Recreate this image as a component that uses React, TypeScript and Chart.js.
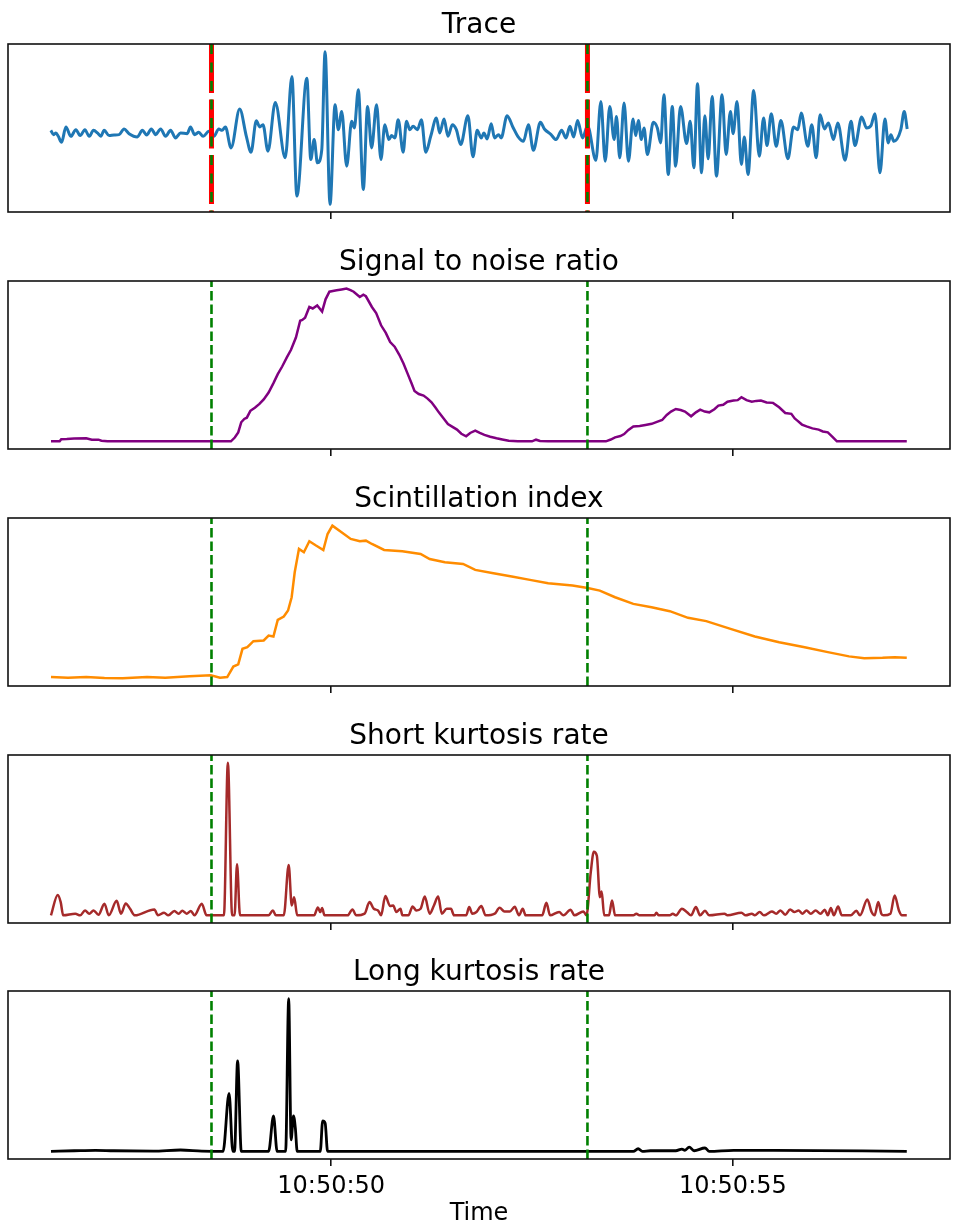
import React, { useEffect, useRef } from 'react';
import { Chart, registerables } from 'chart.js';

Chart.register(...registerables);

// ---------- DATA ----------
const panelTitles = ['Trace', 'Signal to noise ratio', 'Scintillation index', 'Short kurtosis rate', 'Long kurtosis rate'];
const xAxisTitle = 'Time';
// seconds after 10:50:00
const tickValues = [50, 55];
const tickLabels = ['10:50:50', '10:50:55'];
const pickTimes = [48.51, 53.19];

const traceTimes = [
  46.51, 46.545, 46.574, 46.603, 46.644, 46.698, 46.76, 46.822, 46.876, 46.934,
  46.988, 47.041, 47.091, 47.132, 47.174, 47.236, 47.298, 47.36, 47.422, 47.484,
  47.587, 47.65, 47.703, 47.761, 47.815, 47.877, 47.939, 48.001, 48.063, 48.125,
  48.208, 48.249, 48.299, 48.352, 48.406, 48.477, 48.539, 48.601, 48.642, 48.683,
  48.754, 48.861, 48.944, 49.002, 49.068, 49.11, 49.151, 49.213, 49.304, 49.428,
  49.511, 49.573, 49.697, 49.746, 49.788, 49.829, 49.883, 49.924, 49.986, 50.048,
  50.089, 50.131, 50.193, 50.255, 50.288, 50.338, 50.4, 50.453, 50.503, 50.565,
  50.619, 50.668, 50.718, 50.751, 50.793, 50.834, 50.896, 50.937, 50.979, 51.02,
  51.074, 51.123, 51.177, 51.239, 51.31, 51.351, 51.405, 51.454, 51.508, 51.558,
  51.612, 51.702, 51.765, 51.818, 51.868, 51.901, 51.942, 51.992, 52.033, 52.083,
  52.116, 52.19, 52.261, 52.323, 52.393, 52.455, 52.517, 52.604, 52.654, 52.737,
  52.798, 52.869, 52.923, 52.972, 53.018, 53.067, 53.129, 53.191, 53.295, 53.357,
  53.411, 53.468, 53.522, 53.551, 53.592, 53.646, 53.7, 53.758, 53.791, 53.824,
  53.861, 53.894, 53.936, 54.01, 54.06, 54.101, 54.142, 54.196, 54.246, 54.287,
  54.349, 54.424, 54.469, 54.515, 54.56, 54.61, 54.651, 54.693, 54.742, 54.796,
  54.866, 54.916, 54.97, 55.003, 55.052, 55.106, 55.143, 55.189, 55.259, 55.329,
  55.383, 55.425, 55.478, 55.54, 55.598, 55.685, 55.755, 55.809, 55.851, 55.933,
  55.983, 56.037, 56.086, 56.14, 56.19, 56.252, 56.306, 56.397, 56.471, 56.52,
  56.603, 56.665, 56.719, 56.769, 56.831, 56.893, 56.934, 56.967, 57.004, 57.091,
  57.133, 57.17,
];
const traceValues = [
  -0.7, -5.0, -3.3, -6.7, -12.7, 2.7, -6.7, 0, -6, 0,
  -6.7, -0.7, -3.3, -6.7, -0.7, -6, -5.3, -5, 0.7, -4,
  -7.3, -0.7, -5.3, 0.7, -5, 0.7, -6.7, -0.7, -8.3, -3.3,
  -4, 2.7, -5, -2.7, -6.7, -1.7, -6.7, 0.7, -0.7, 2.7,
  -18.3, 20.7, -6.7, -22.7, 9, 2.7, 5, -21.7, 27.3, -28.3,
  53.3, -66.7, 51.7, -30, -10, -33.3, -20, 78.3, -75, 25,
  0, 18.3, -36.7, 8.3, 1.7, 40, -60, 23.3, -18.3, 25,
  -30, 5, -10, -6, -8.3, 10, -22.7, 8.3, 0, 3.3,
  0, 10, -22.7, -6.7, 11.7, -3.3, 10.7, -6.7, 5, 0,
  -15, 14, -27.3, -0.7, -8.3, -3.3, -9.3, 6, -8.3, -5,
  -8.3, 14, 2.7, -6.7, -11.7, 5, -20.7, 7.3, 0.7, -5,
  -10, -0.7, -8.3, 3.3, -7.3, 9.3, -8.3, 4, -30.7, 28.3,
  -31.7, 23.3, -10, 13.3, -28.3, 26.7, -31.7, 10.7, -6, 9.3,
  -10, 1.7, -25, 7.3, 1.7, -13.3, 35, -45, 23.3, -36.7,
  23.3, -14, 8.3, -38.3, 46, -43.3, 14, -29.3, 33.3, -46.7,
  35, -25, 18.3, -4, 28.3, -35, -7.3, -45, 39.3, -26.7,
  11.7, -16, 16, -16.7, 9.3, -29.3, 2.7, 0, 16.7, -16.7,
  5, -28.3, 15, 0.7, 6.7, -10, 6.7, -30.7, 8.3, -16,
  12.7, 1.7, 4, 16, -43.3, 10.7, -13.3, -5, -11.7, 0,
  18.3, 0.7,
];

const snrTimes = [
  46.512, 46.62, 46.64, 46.709, 46.8, 46.951, 47.02, 47.103, 47.14, 47.216,
  48.752, 48.8, 48.843, 48.88, 48.918, 48.95, 48.994, 49.05, 49.107, 49.16,
  49.221, 49.28, 49.335, 49.39, 49.448, 49.5, 49.561, 49.614, 49.64, 49.675,
  49.728, 49.77, 49.826, 49.887, 49.93, 49.978, 50.02, 50.068, 50.13, 50.19,
  50.24, 50.28, 50.356, 50.4, 50.432, 50.507, 50.56, 50.621, 50.68, 50.734,
  50.79, 50.848, 50.9, 50.946, 51.0, 51.037, 51.09, 51.15, 51.2, 51.249,
  51.3, 51.34, 51.4, 51.453, 51.51, 51.566, 51.62, 51.68, 51.73, 51.793,
  51.85, 51.907, 51.98, 52.058, 52.13, 52.21, 52.323, 52.5, 52.55, 52.6,
  52.701, 53.42, 53.48, 53.534, 53.6, 53.647, 53.7, 53.761, 53.84, 53.912,
  53.99, 54.063, 54.12, 54.177, 54.23, 54.29, 54.35, 54.404, 54.48, 54.54,
  54.593, 54.65, 54.707, 54.77, 54.82, 54.88, 54.933, 55.009, 55.06, 55.107,
  55.17, 55.236, 55.29, 55.349, 55.42, 55.5, 55.576, 55.652, 55.728, 55.77,
  55.803, 55.86, 55.917, 55.99, 56.068, 56.12, 56.182, 56.24, 56.295, 57.165,
];
const snrValues = [
  0, 0, 1.4, 1.5, 1.9, 2, 1.1, 1.1, 0.4, 0,
  0, 2.5, 5.9, 12.5, 14.7, 15.5, 20, 22, 24.5, 27.5,
  32, 38, 44, 49, 55, 60, 68, 79, 79.5, 81,
  88, 87, 89, 85, 93, 98, 98.5, 99, 99.5, 100,
  99, 98, 94.5, 96, 95, 88, 84, 76, 71, 65,
  62, 56.7, 51, 45, 38, 33, 31, 30, 28, 25.6,
  22, 19, 15, 11.4, 9.5, 7.7, 5, 3.3, 5.5, 7,
  5.5, 4.2, 3, 2, 1.2, 0.4, 0, 0, 1.1, 0.3,
  0, 0, 1.2, 2.6, 3.5, 4.8, 7.5, 9.8, 10, 10.7,
  11.5, 12.9, 14, 17.3, 19.5, 21.2, 20.5, 19.5, 16.4, 19,
  20.8, 19.5, 19, 21, 23.4, 24, 26, 26.7, 27, 28.9,
  27, 26, 26.5, 26.7, 25.5, 25.2, 22.3, 18.6, 18, 15,
  13.6, 11, 9.8, 8.5, 7.7, 6.5, 5.9, 3, 0, 0,
];

const scintTimes = [
  46.512, 46.724, 46.951, 47.178, 47.405, 47.708, 47.935, 48.237, 48.502, 48.616,
  48.706, 48.782, 48.843, 48.896, 48.956, 49.032, 49.16, 49.221, 49.281, 49.335,
  49.41, 49.463, 49.508, 49.546, 49.599, 49.66, 49.728, 49.811, 49.902, 49.955,
  50.015, 50.129, 50.243, 50.356, 50.432, 50.507, 50.659, 50.885, 51.113, 51.226,
  51.415, 51.642, 51.793, 52.02, 52.248, 52.474, 52.701, 53.004, 53.193, 53.344,
  53.534, 53.761, 53.988, 54.215, 54.442, 54.669, 54.971, 55.274, 55.576, 55.879,
  56.182, 56.446, 56.636, 56.863, 57.014, 57.165,
];
const scintValues = [
  4.2, 3.8, 4.2, 3.6, 3.4, 4.2, 3.8, 4.8, 5.3, 3.8,
  4.2, 10.9, 12.2, 22.1, 23.2, 26.9, 27.4, 30.5, 29.9, 40.4,
  42.5, 46.3, 54.7, 70.5, 85.3, 83.2, 90.1, 87.4, 84.6, 94.7,
  100, 95.8, 91.6, 90.1, 90.5, 88.4, 84.6, 83.8, 82.1, 78.9,
  76.8, 75.8, 72, 69.9, 67.8, 65.7, 63.6, 62.1, 60.6, 58.9,
  54.7, 50.5, 48.4, 45.9, 41.7, 39.6, 34.7, 29.9, 26.3, 23.2,
  20, 17.3, 16.2, 16.4, 16.8, 16.4,
];

const shortKurtTimes = [
  46.512, 46.596, 46.633, 46.664, 46.815, 46.876, 46.936, 46.989, 47.042, 47.103,
  47.178, 47.231, 47.33, 47.383, 47.443, 47.496, 47.557, 47.799, 47.844, 47.92,
  47.973, 48.048, 48.101, 48.147, 48.2, 48.253, 48.298, 48.389, 48.449, 48.631,
  48.665, 48.714, 48.767, 48.797, 48.828, 48.865, 49.221, 49.274, 49.312, 49.41,
  49.471, 49.509, 49.539, 49.577, 49.788, 49.834, 49.864, 49.887, 49.917, 50.205,
  50.265, 50.311, 50.416, 50.477, 50.53, 50.583, 50.621, 50.674, 50.734, 50.772,
  50.81, 50.863, 50.886, 50.961, 51.014, 51.06, 51.113, 51.165, 51.226, 51.279,
  51.332, 51.377, 51.438, 51.491, 51.529, 51.68, 51.718, 51.756, 51.809, 51.869,
  51.922, 52.036, 52.096, 52.157, 52.225, 52.285, 52.338, 52.384, 52.421, 52.626,
  52.679, 52.724, 52.838, 52.891, 52.981, 53.027, 53.14, 53.178, 53.231, 53.269,
  53.307, 53.345, 53.367, 53.398, 53.458, 53.496, 53.534, 53.761, 53.799, 53.836,
  54.026, 54.048, 54.078, 54.215, 54.252, 54.29, 54.366, 54.426, 54.479, 54.54,
  54.593, 54.653, 54.706, 54.896, 54.933, 55.107, 55.16, 55.236, 55.274, 55.334,
  55.387, 55.486, 55.539, 55.592, 55.652, 55.713, 55.766, 55.819, 55.864, 55.917,
  55.97, 56.03, 56.091, 56.144, 56.182, 56.22, 56.257, 56.31, 56.356, 56.469,
  56.537, 56.583, 56.674, 56.727, 56.764, 56.81, 56.848, 56.878, 56.961, 57.014,
  57.067, 57.105, 57.165,
];
const shortKurtValues = [
  0, 13.4, 8.7, 0, 1.1, 0, 3.2, 1.1, 3.2, 0.4,
  7.6, 0, 9.5, 1.1, 7.8, 4.3, 0, 3.9, 0, 1.7,
  0, 2.8, 1.1, 3.0, 1.1, 2.8, 0, 7.6, 0, 0,
  0, 100, 0, 0, 33.5, 0, 0, 3.2, 0, 0,
  32.9, 6.5, 11.9, 0, 0, 5.2, 2.2, 4.8, 0, 0,
  3.9, 0, 1.1, 8.7, 4.3, 3.2, 0, 12.6, 6.1, 6.5,
  2.2, 4.3, 0, 0, 5.8, 3.2, 4.3, 12.3, 1.1, 6.5,
  12.3, 1.1, 4.3, 4.3, 0, 0, 5.4, 1.1, 2.2, 6.1,
  0, 1.1, 5.0, 2.6, 2.6, 5.6, 0, 4.3, 0, 0,
  8.2, 0, 2.2, 0, 3.7, 0, 2.6, 0, 28.1, 41.6,
  39.0, 11.9, 15.6, 0, 0, 9.7, 0, 0, 1.1, 0,
  0, 1.7, 0, 0, 1.1, 0, 4.3, 2.2, 0, 5.4,
  0, 3.0, 0, 1.1, 0, 1.7, 0, 1.1, 0, 2.2,
  0, 2.6, 1.1, 3.2, 0.4, 3.9, 2.2, 3.2, 1.1, 3.2,
  1.1, 3.2, 1.1, 3.7, 0, 4.8, 0, 5.8, 0, 0,
  3.0, 0, 10.4, 2.2, 0, 8.7, 1.1, 0, 1.1, 13.0,
  3.2, 0, 0,
];

const longKurtTimes = [
  46.512, 46.8, 47.065, 47.292, 47.784, 48.124, 48.389, 48.654, 48.729, 48.775,
  48.797, 48.835, 48.881, 49.221, 49.282, 49.327, 49.433, 49.471, 49.501, 49.531,
  49.554, 49.577, 49.864, 49.894, 49.925, 49.955, 53.761, 53.821, 53.874, 53.973,
  54.29, 54.366, 54.404, 54.457, 54.517, 54.653, 54.706, 55.009, 55.138, 55.501,
  57.165,
];
const longKurtValues = [
  0, 0.4, 0.7, 0.4, 0.2, 0.9, 0.2, 0, 38, 0,
  0, 59.3, 0, 0, 23.3, 0, 0, 100, 7.6, 23.3,
  15.2, 0, 0, 20, 18.5, 0, 0, 1.7, 0, 0.4,
  0.4, 1.5, 0.7, 2.8, 0.4, 2.2, 0, 0.7, 0.7, 0.7,
  0,
];

// ---------- STYLE / LAYOUT ----------
const FONT = '"DejaVu Sans", sans-serif';
const CANVAS_W = 955;
const PLOT_H = 168;
const TITLE_SPACE = 44;
const plotTops = [44, 281, 518, 755, 991];

type PanelSpec = {
  title: string;
  times: number[];
  values: number[];
  color: string;
  width: number;
  smooth: boolean;
  doublePick: boolean;
};

const panels: PanelSpec[] = [
  { title: panelTitles[0], times: traceTimes, values: traceValues, color: '#1f77b4', width: 3, smooth: true, doublePick: true },
  { title: panelTitles[1], times: snrTimes, values: snrValues, color: '#800080', width: 2.5, smooth: false, doublePick: false },
  { title: panelTitles[2], times: scintTimes, values: scintValues, color: '#ff8c00', width: 2.5, smooth: false, doublePick: false },
  { title: panelTitles[3], times: shortKurtTimes, values: shortKurtValues, color: '#a52a2a', width: 2.5, smooth: true, doublePick: false },
  { title: panelTitles[4], times: longKurtTimes, values: longKurtValues, color: '#000000', width: 2.8, smooth: true, doublePick: false },
];

const allTimes = panels.flatMap((p) => p.times);
const tMin = Math.min(...allTimes);
const tMax = Math.max(...allTimes);
const xMin = tMin - (tMax - tMin) * 0.05;
const xMax = tMax + (tMax - tMin) * 0.05;

function yRange(vals: number[]): [number, number] {
  const lo = Math.min(...vals);
  const hi = Math.max(...vals);
  const m = (hi - lo) * 0.05;
  return [lo - m, hi + m];
}

const framePlugin = {
  id: 'frameAndTitle',
  afterDatasetsDraw(chart: any) {
    const { ctx, chartArea } = chart;
    ctx.save();
    ctx.strokeStyle = '#111';
    ctx.lineWidth = 1.6;
    ctx.strokeRect(chartArea.left, chartArea.top, chartArea.right - chartArea.left, chartArea.bottom - chartArea.top);
    const title = chart.options.plugins.panelTitle?.text;
    if (title) {
      ctx.fillStyle = '#000';
      ctx.font = `28px ${FONT}`;
      ctx.textAlign = 'center';
      ctx.textBaseline = 'alphabetic';
      ctx.fillText(title, (chartArea.left + chartArea.right) / 2, chartArea.top - 11);
    }
    ctx.restore();
  },
};

function Panel({ spec, index }: { spec: PanelSpec; index: number }) {
  const ref = useRef<HTMLCanvasElement | null>(null);
  const isLast = index === panels.length - 1;
  const axisH = isLast ? 1228 - (plotTops[index] + PLOT_H) : 10;
  const canvasH = TITLE_SPACE + PLOT_H + axisH;
  const canvasTop = plotTops[index] - TITLE_SPACE;

  useEffect(() => {
    if (!ref.current) return;
    const [yMin, yMax] = yRange(spec.values);
    const series = spec.times.map((t, i) => ({ x: t, y: spec.values[i] }));
    const datasets: any[] = [];
    pickTimes.forEach((p) => {
      if (spec.doublePick) {
        datasets.push({
          data: [{ x: p, y: yMax }, { x: p, y: yMin }],
          borderColor: '#008000',
          borderWidth: 2.6,
          borderDash: [10, 8.5],
          pointRadius: 0,
          order: 0,
        });
        datasets.push({
          data: [{ x: p, y: yMax }, { x: p, y: yMin }],
          borderColor: '#ff0000',
          borderWidth: 5,
          borderDash: [49, 6.5],
          pointRadius: 0,
          order: 1,
        });
      } else {
        datasets.push({
          data: [{ x: p, y: yMin }, { x: p, y: yMax }],
          borderColor: '#008000',
          borderWidth: 2.6,
          borderDash: [9.5, 4],
          pointRadius: 0,
          order: 0,
        });
      }
    });
    datasets.push({
      data: series,
      borderColor: spec.color,
      borderWidth: spec.width,
      pointRadius: 0,
      tension: 0,
      cubicInterpolationMode: spec.smooth ? 'monotone' : 'default',
      order: 2,
    });

    const chart = new Chart(ref.current, {
      type: 'line',
      data: { datasets },
      options: {
        responsive: false,
        animation: false,
        devicePixelRatio: 1,
        events: [],
        parsing: false,
        layout: { padding: { left: 8, right: 5, top: TITLE_SPACE, bottom: 0 } },
        plugins: {
          legend: { display: false },
          tooltip: { enabled: false },
          panelTitle: { text: spec.title },
        } as any,
        scales: {
          x: {
            type: 'linear',
            min: xMin,
            max: xMax,
            afterBuildTicks: (s: any) => {
              s.ticks = tickValues.map((v) => ({ value: v }));
            },
            afterFit: (s: any) => {
              s.height = axisH;
            },
            grid: { display: true, drawOnChartArea: false, drawTicks: true, tickLength: 7, color: '#111', lineWidth: 1.6 },
            border: { display: false },
            ticks: {
              display: isLast,
              autoSkip: false,
              maxRotation: 0,
              padding: 6,
              color: '#000',
              font: { family: FONT, size: 24 },
              callback: (_v: any, i: number) => tickLabels[i],
            },
            title: {
              display: isLast,
              text: xAxisTitle,
              color: '#000',
              font: { family: FONT, size: 24 },
              padding: { top: 0, bottom: 0 },
            },
          },
          y: { type: 'linear', display: false, min: yMin, max: yMax },
        },
      } as any,
      plugins: [framePlugin],
    });
    return () => chart.destroy();
  }, [spec, index]);

  return (
    <canvas
      ref={ref}
      width={CANVAS_W}
      height={canvasH}
      style={{ position: 'absolute', left: 0, top: canvasTop, width: CANVAS_W, height: canvasH, display: 'block' }}
    />
  );
}

export default function App() {
  return (
    <div style={{ position: 'absolute', left: 0, top: 0, width: CANVAS_W, height: 1228, background: '#fff', overflow: 'hidden' }}>
      {panels.map((p, i) => (
        <Panel key={i} spec={p} index={i} />
      ))}
    </div>
  );
}
